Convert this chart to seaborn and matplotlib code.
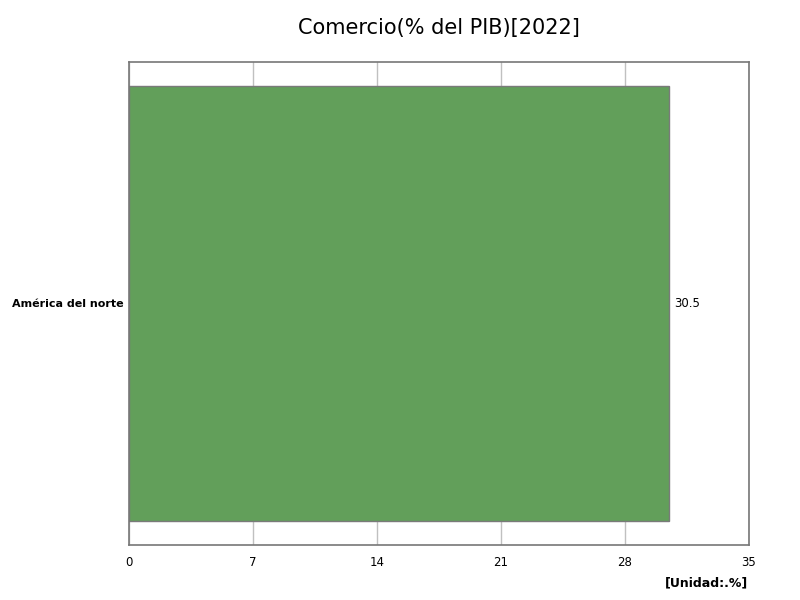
import matplotlib
matplotlib.use("Agg")
import matplotlib.pyplot as plt
import seaborn as sns
import pandas as pd

regions = ["América del norte"]
values = [30.5]
ticks = [0, 7, 14, 21, 28, 35]

df = pd.DataFrame({"region": regions, "value": values})

sns.set_style("white")
plt.rcParams["font.family"] = ["DejaVu Sans"]
plt.rcParams["text.color"] = "black"
plt.rcParams["xtick.color"] = "black"
plt.rcParams["ytick.color"] = "black"

fig = plt.figure(figsize=(8, 6), dpi=100)
ax = fig.add_axes([0.16125, 0.0917, 0.775, 0.805])

sns.barplot(data=df, x="value", y="region", orient="h", color="#629f5a",
            edgecolor="#7a7a7a", linewidth=1, width=0.9, saturation=1, ax=ax)

ax.set_xlim(0, 35)
ax.set_ylim(0.5, -0.5)
ax.set_xticks(ticks)
ax.set_xticklabels([str(t) for t in ticks], fontsize=8.5)
ax.grid(axis="x", color="#c0c0c0", linewidth=1)
ax.set_axisbelow(True)
ax.tick_params(axis="x", length=0, pad=8)
ax.tick_params(axis="y", length=0, pad=4)
for lab in ax.get_yticklabels():
    lab.set_fontweight("bold")
    lab.set_fontsize(8)
ax.set_xlabel("")
ax.set_ylabel("")
for s in ax.spines.values():
    s.set_color("#777777")
    s.set_linewidth(1.2)

for v, i in zip(values, range(len(values))):
    ax.text(v + 0.3, i, f"{v}", va="center", ha="left", fontsize=8.5)

ax.set_title("Comercio(% del PIB)[2022]", fontsize=15, pad=20)
fig.text(0.935, 0.018, "[Unidad:.%]", ha="right", va="bottom",
         fontsize=9, fontweight="bold")

fig.savefig("out.png", dpi=100)
